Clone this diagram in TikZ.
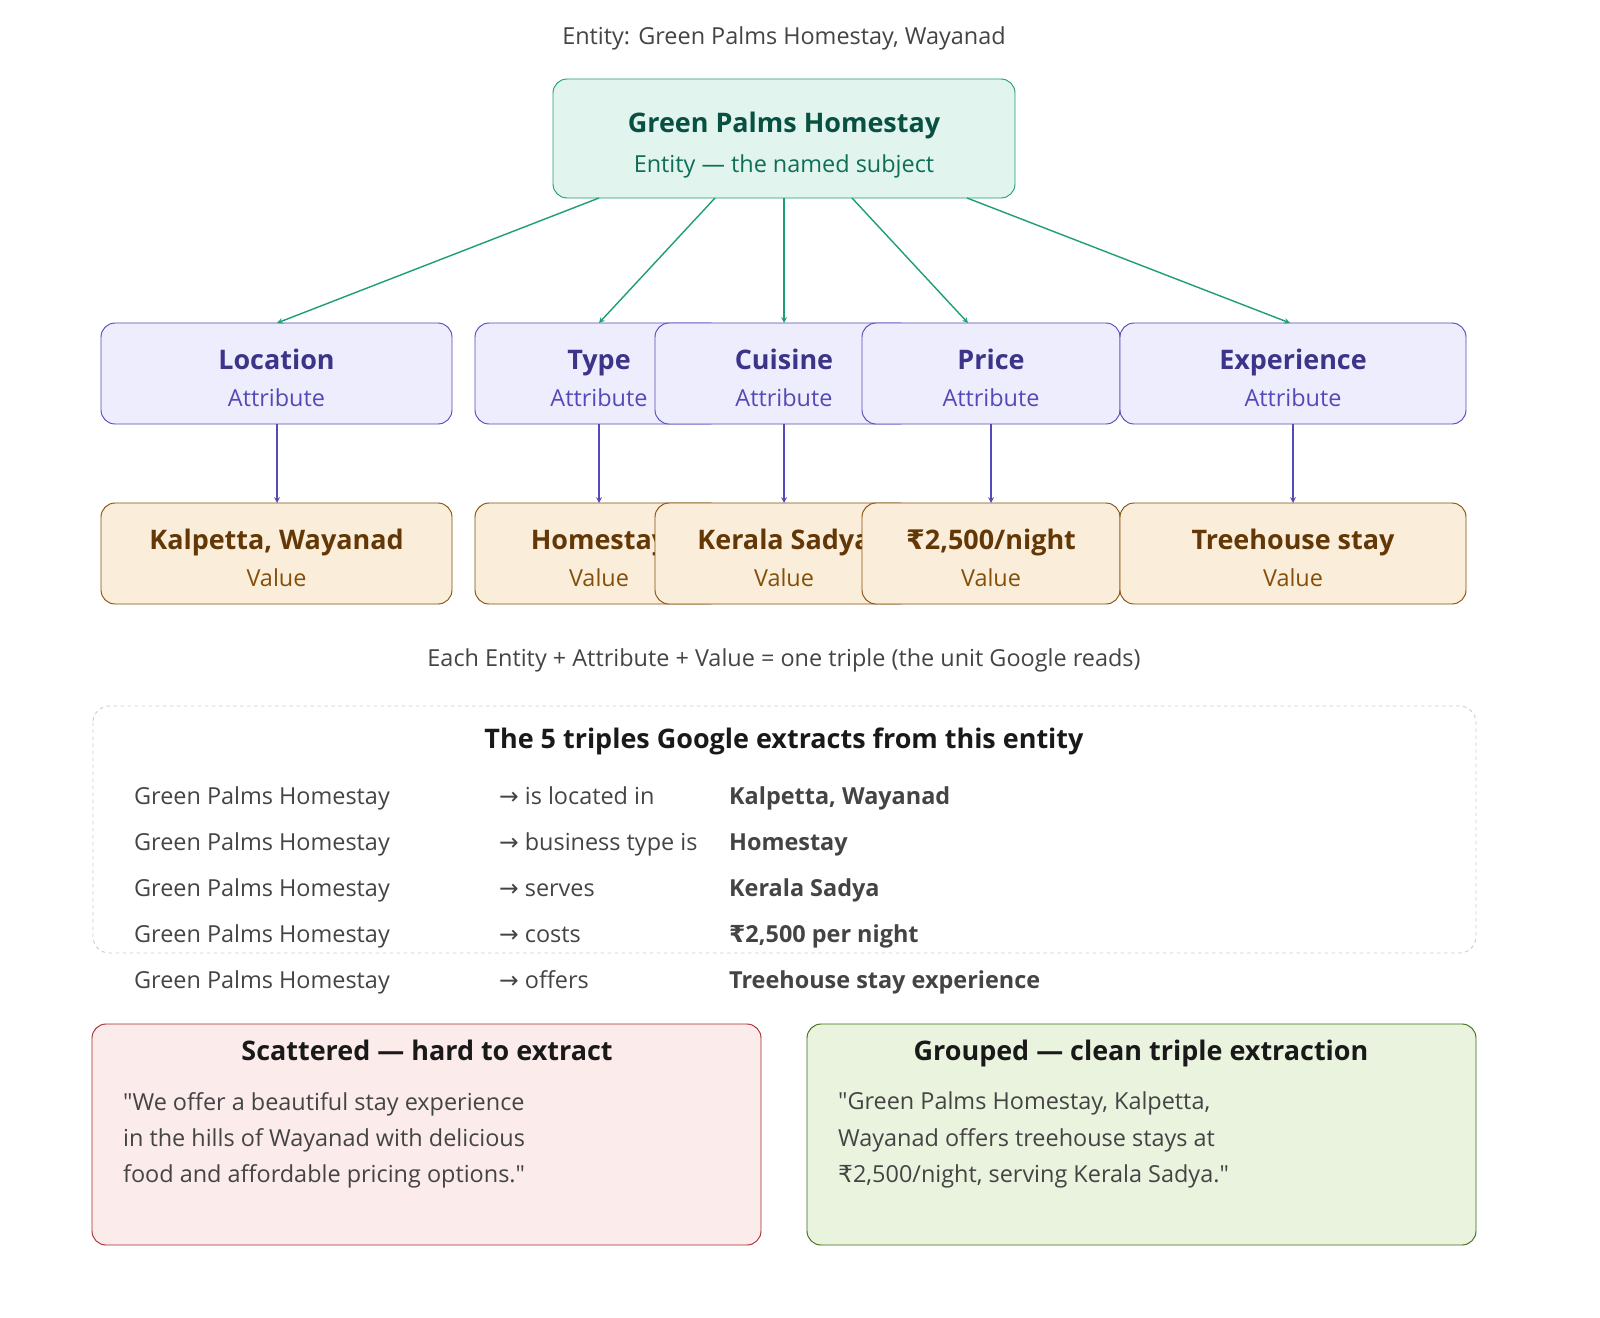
\documentclass[tikz,border=0pt]{standalone}
\usepackage{fontspec}
\setmainfont{Open Sans}
\newfontfamily\symfont{DejaVu Sans}
\usetikzlibrary{arrows,calc,positioning}
\newcommand{\ar}{{\symfont →}}
\newcommand{\rs}{{\symfont ₹}}
\newcommand{\qq}{\textquotedbl}
\definecolor{entfill}{HTML}{E1F5EE}
\definecolor{entdraw}{HTML}{1D9E75}
\definecolor{enttext}{HTML}{085041}
\definecolor{entsub}{HTML}{0F6E56}
\definecolor{attfill}{HTML}{EEEDFE}
\definecolor{attdraw}{HTML}{534AB7}
\definecolor{atttext}{HTML}{3C3489}
\definecolor{valfill}{HTML}{FAEEDA}
\definecolor{valdraw}{HTML}{854F0B}
\definecolor{valtext}{HTML}{633806}
\definecolor{badfill}{HTML}{FCEBEB}
\definecolor{baddraw}{HTML}{A32D2D}
\definecolor{goodfill}{HTML}{EAF3DE}
\definecolor{gooddraw}{HTML}{3B6D11}
\definecolor{txt}{HTML}{444444}
\tikzset{
box/.style={draw,rounded corners=12pt,line width=0.8pt},
att/.style={box,fill=attfill,draw=attdraw},
val/.style={box,fill=valfill,draw=valdraw},
big/.style={font=\fontsize{23}{28}\selectfont\bfseries,text height=0.75em,text depth=0.25em},
small/.style={font=\fontsize{20}{24}\selectfont,text height=0.75em,text depth=0.25em},
row/.style={anchor=west,text=txt,font=\fontsize{20}{24}\selectfont,text height=0.75em,text depth=0.25em},
para/.style={anchor=north west,align=left,text=txt,font=\fontsize{20}{31}\selectfont},
}
\begin{document}
\begin{tikzpicture}[x=0.3mm,y=-0.3mm,>=stealth]
\useasboundingbox (0,0) rectangle (1600,1318);

\node[text=txt,small] (title) at (784,42) {Entity: Green Palms Homestay, Wayanad};

% entity
\draw[box,fill=entfill,draw=entdraw] (553,79) rectangle (1015,198);
\node[text=enttext,big] (e) at (784,130) {Green Palms Homestay};
\node[text=entsub,small] (esub) at (784,170) {Entity — the named subject};

% attributes and values
\foreach \n/\l/\r/\a/\v in {loc/101/452/Location/{Kalpetta, Wayanad},
  typ/475/723/Type/Homestay,
  cui/655/913/Cuisine/Kerala Sadya,
  pri/862/1120/Price/{\rs2,500/night},
  exp/1120/1466/Experience/Treehouse stay}{
  \draw[att] (\l,323) rectangle (\r,424);
  \node[text=atttext,big] (\n-a) at ({(\l+\r)/2},367) {\a};
  \node[text=attdraw,small] (\n-as) at ({(\l+\r)/2},404) {Attribute};
  \draw[val] (\l,503) rectangle (\r,604);
  \node[text=valtext,big] (\n-v) at ({(\l+\r)/2},547) {\v};
  \node[text=valdraw,small] (\n-vs) at ({(\l+\r)/2},584) {Value};
}

% entity -> attribute
\foreach \sx/\tx in {599/277,715/599,784/784,852/968,967/1290}
  \draw[->,entdraw,line width=1.2pt] (\sx,198) -- (\tx,323);
% attribute -> value
\foreach \x in {277,599,784,991,1293}
  \draw[->,attdraw,line width=1.2pt] (\x,424) -- (\x,503);

\node[text=txt,small] (note) at (784,664) {Each Entity + Attribute + Value = one triple (the unit Google reads)};

% triples
\draw[rounded corners=14pt,dashed,draw=black!20,line width=0.8pt] (93,706) rectangle (1476,953);
\node[big,text=black!90] (ttl) at (784,746) {The 5 triples Google extracts from this entity};
\foreach \y/\p/\o in {802/is located in/{Kalpetta, Wayanad},
  848/business type is/Homestay,
  894/serves/Kerala Sadya,
  940/costs/{\rs2,500 per night},
  986/offers/Treehouse stay experience}{
  \node[row] at (130,\y) {Green Palms Homestay};
  \node[row] at (495,\y) {\ar\ \p};
  \node[row,font=\fontsize{20}{24}\selectfont\bfseries] at (725,\y) {\o};
}

% scattered / grouped
\draw[box,fill=badfill,draw=baddraw] (92,1024) rectangle (761,1245);
\node[big,text=black!90] (bad) at (427,1058) {Scattered — hard to extract};
\node[para] (badtxt) at (119,1088)
  {\qq We offer a beautiful stay experience\\in the hills of Wayanad with delicious\\food and affordable pricing options.\qq};
\draw[box,fill=goodfill,draw=gooddraw] (807,1024) rectangle (1476,1245);
\node[big,text=black!90] (good) at (1141,1058) {Grouped — clean triple extraction};
\node[para] (goodtxt) at (834,1088)
  {\qq Green Palms Homestay, Kalpetta,\\Wayanad offers treehouse stays at\\\rs2,500/night, serving Kerala Sadya.\qq};
\end{tikzpicture}
\end{document}
